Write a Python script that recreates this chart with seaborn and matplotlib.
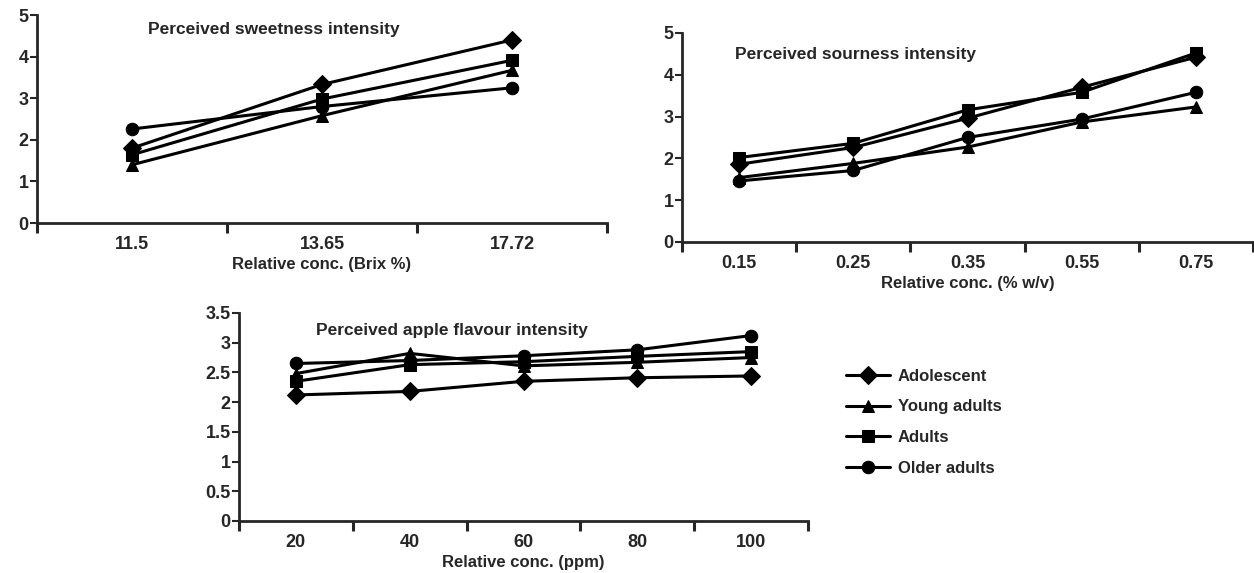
import pandas as pd
import numpy as np
import matplotlib.pyplot as plt
import seaborn as sns

groups = ['Adolescent', 'Young adults', 'Adults', 'Older adults']
group_markers = {'Adolescent': 'D', 'Young adults': '^', 'Adults': 's', 'Older adults': 'o'}

# sweetness
sweet_conc = ['11.5', '13.65', '17.72']
sweet_adolescent = [1.80, 3.33, 4.40]
sweet_young = [1.40, 2.58, 3.67]
sweet_adults = [1.64, 2.98, 3.91]
sweet_older = [2.26, 2.80, 3.25]

# sourness
sour_conc = ['0.15', '0.25', '0.35', '0.55', '0.75']
sour_adolescent = [1.86, 2.26, 2.96, 3.70, 4.42]
sour_young = [1.54, 1.88, 2.27, 2.87, 3.23]
sour_adults = [2.02, 2.36, 3.16, 3.58, 4.52]
sour_older = [1.46, 1.71, 2.50, 2.94, 3.58]

# apple flavour
apple_conc = ['20', '40', '60', '80', '100']
apple_adolescent = [2.12, 2.18, 2.35, 2.41, 2.44]
apple_young = [2.48, 2.82, 2.61, 2.67, 2.75]
apple_adults = [2.35, 2.63, 2.68, 2.77, 2.85]
apple_older = [2.65, 2.70, 2.78, 2.88, 3.12]


def long_table(conc, series):
    rows = []
    for g, vals in zip(groups, series):
        for i, (c, v) in enumerate(zip(conc, vals)):
            rows.append({'pos': i, 'conc': c, 'group': g, 'value': v})
    return pd.DataFrame(rows)


sns.set_style("ticks")
plt.rcParams['font.family'] = ['Liberation Sans', 'DejaVu Sans']
plt.rcParams['font.weight'] = 'bold'

fig = plt.figure(figsize=(12.54, 5.73), dpi=100)
ax1 = fig.add_axes([0.0295, 0.6108, 0.4545, 0.363])
ax2 = fig.add_axes([0.5439, 0.5777, 0.4553, 0.3648])
ax3 = fig.add_axes([0.1906, 0.0908, 0.4538, 0.363])

panels = [
    (ax1, sweet_conc, [sweet_adolescent, sweet_young, sweet_adults, sweet_older],
     'Relative conc. (Brix %)', 'Perceived sweetness intensity', (0.195, 0.93),
     [0, 1, 2, 3, 4, 5], ['0', '1', '2', '3', '4', '5']),
    (ax2, sour_conc, [sour_adolescent, sour_young, sour_adults, sour_older],
     'Relative conc. (% w/v)', 'Perceived sourness intensity', (0.093, 0.895),
     [0, 1, 2, 3, 4, 5], ['0', '1', '2', '3', '4', '5']),
    (ax3, apple_conc, [apple_adolescent, apple_young, apple_adults, apple_older],
     'Relative conc. (ppm)', 'Perceived apple flavour intensity', (0.135, 0.918),
     [0, 0.5, 1, 1.5, 2, 2.5, 3, 3.5], ['0', '0.5', '1', '1.5', '2', '2.5', '3', '3.5']),
]

for ax, conc, series, xlab, title, tpos, yt, ytl in panels:
    df = long_table(conc, series)
    sns.lineplot(data=df, x='pos', y='value', style='group', markers=group_markers,
                 dashes=False, color='black', linewidth=2.2, markersize=9,
                 markeredgecolor='black', ax=ax, legend=(ax is ax3))
    n = len(conc)
    ax.set_xlim(-0.5, n - 0.5)
    ax.set_ylim(yt[0], yt[-1])
    ax.set_xticks(np.arange(n + 1) - 0.5)
    ax.set_xticklabels([])
    ax.set_xticks(np.arange(n), minor=True)
    ax.set_xticklabels(conc, minor=True, fontsize=13, fontweight='bold')
    ax.tick_params(axis='x', which='major', length=7, width=2.2, direction='out')
    ax.tick_params(axis='x', which='minor', length=0, pad=9.5)
    ax.set_yticks(yt)
    ax.set_yticklabels(ytl, fontsize=13, fontweight='bold')
    ax.tick_params(axis='y', length=5, width=1.5, pad=1)
    ax.set_xlabel(xlab, fontsize=12, fontweight='bold', labelpad=3)
    ax.set_ylabel('')
    for s in ['left', 'bottom']:
        ax.spines[s].set_linewidth(2)
    sns.despine(ax=ax)
    ax.text(tpos[0], tpos[1], title, transform=ax.transAxes, fontsize=12.5,
            fontweight='bold', va='center', ha='left')

handles, labels = ax3.get_legend_handles_labels()
ax3.get_legend().remove()
fig.legend(handles, labels, loc='upper left', bbox_to_anchor=(0.663, 0.383),
           frameon=False, fontsize=12, labelspacing=0.95, handlelength=2.6,
           handletextpad=0.5)

plt.savefig("out.png", dpi=100)
